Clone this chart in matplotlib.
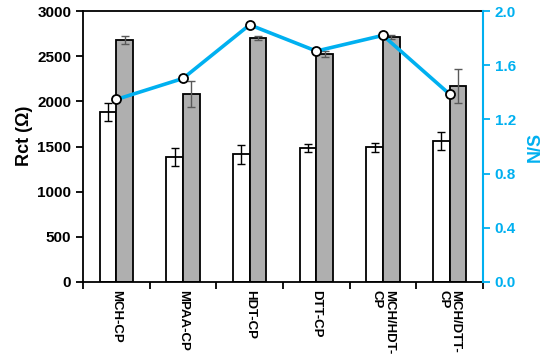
import numpy as np
import matplotlib
matplotlib.use("Agg")
import matplotlib.pyplot as plt

plt.rcParams['font.family'] = ['Liberation Sans', 'DejaVu Sans']
plt.rcParams['font.weight'] = 'bold'

categories = ["MCH-CP", "MPAA-CP", "HDT-CP", "DTT-CP", "MCH/HDT-\nCP", "MCH/DTT-\nCP"]
rct_white = [1885, 1380, 1417, 1480, 1491, 1564]
err_white = [100, 100, 105, 45, 50, 100]
rct_gray = [2679, 2081, 2701, 2524, 2716, 2170]
err_gray = [45, 145, 25, 30, 25, 190]
ns_ratio = [1.348, 1.503, 1.899, 1.705, 1.821, 1.387]

cyan = "#00B0F0"

fig = plt.figure(figsize=(5.5, 3.59), dpi=100)
ax = fig.add_axes([0.151, 0.2145, 0.727, 0.7545])

x = np.arange(len(categories))
w = 0.25
ax.bar(x - w / 2, rct_white, w, color="white", edgecolor="black", linewidth=1.3, zorder=2)
ax.bar(x + w / 2, rct_gray, w, color="#AFAFAF", edgecolor="black", linewidth=1.3, zorder=2)
ax.errorbar(x - w / 2, rct_white, yerr=err_white, fmt="none", ecolor="black",
            elinewidth=1, capsize=3, capthick=1, zorder=3)
ax.errorbar(x + w / 2, rct_gray, yerr=err_gray, fmt="none", ecolor="#595959",
            elinewidth=1, capsize=3, capthick=1, zorder=3)

ax.set_xlim(-0.5, len(categories) - 0.5)
ax.set_ylim(0, 3000)
ax.set_yticks(np.arange(0, 3001, 500))
ax.set_xticks(np.arange(-0.5, len(categories), 1.0))
ax.set_xticklabels([])
ax.set_xticks(x, minor=True)
ax.set_xticklabels(categories, minor=True, rotation=270, fontsize=9.5, fontweight="bold",
                   va="top", ha="center", multialignment="left", linespacing=1.0)
ax.tick_params(axis="x", which="minor", length=0, pad=6)
ax.tick_params(axis="x", which="major", length=5, width=1.3, direction="out")
ax.tick_params(axis="y", length=5, width=1.3, labelsize=11)
for lab in ax.get_yticklabels():
    lab.set_fontweight("bold")
ax.set_ylabel("Rct (Ω)", fontsize=13, fontweight="bold", labelpad=8)
ax.yaxis.set_label_coords(-0.125, 0.54)
for s in ["left", "bottom", "top"]:
    ax.spines[s].set_linewidth(1.3)
ax.spines["right"].set_visible(False)

ax2 = ax.twinx()
ax2.plot(x, ns_ratio, color=cyan, linewidth=2.6, marker="o", markersize=6.5,
         markerfacecolor="white", markeredgecolor="black", markeredgewidth=1.3, zorder=5)
ax2.set_ylim(0, 2.0)
ax2.set_yticks(np.arange(0, 2.01, 0.4))
ax2.set_yticklabels([f"{v:.1f}" for v in np.arange(0, 2.01, 0.4)], color=cyan,
                    fontsize=11, fontweight="bold")
ax2.tick_params(axis="y", colors=cyan, length=5, width=1.3)
ax2.spines["right"].set_color(cyan)
ax2.spines["right"].set_linewidth(1.5)
ax2.spines["top"].set_visible(False)
ax2.spines["left"].set_visible(False)
ax2.spines["bottom"].set_visible(False)
ax2.set_ylabel("N/S", color=cyan, fontsize=13, fontweight="bold", labelpad=8)

fig.savefig("out.png", dpi=100)
